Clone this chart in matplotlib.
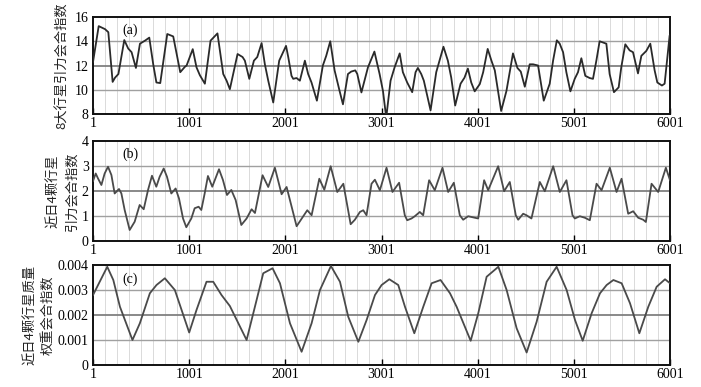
import numpy as np
import matplotlib
matplotlib.use('Agg')
import matplotlib.pyplot as plt

plt.rcParams['font.family'] = ['Liberation Serif', 'Noto Sans CJK SC']

# x positions of the ticks
xticks = [1, 1001, 2001, 3001, 4001, 5001, 6001]

# (a) 8 planets index
ta = [1, 60, 126, 160, 205, 230, 265, 326, 367, 402,
      447, 489, 541, 586, 627, 660, 700, 773, 835, 908,
      957, 974, 1038, 1077, 1112, 1164, 1223, 1295, 1355, 1390,
      1424, 1504, 1556, 1580, 1626, 1674, 1709, 1754, 1788, 1823,
      1875, 1937, 2008, 2031, 2065, 2083, 2117, 2152, 2204, 2238,
      2273, 2329, 2391, 2426, 2468, 2513, 2565, 2600, 2652, 2686,
      2728, 2749, 2792, 2860, 2927, 2981, 3016, 3050, 3095, 3137,
      3190, 3223, 3268, 3320, 3355, 3379, 3414, 3441, 3511, 3570,
      3645, 3691, 3726, 3767, 3823, 3864, 3899, 3934, 3970, 4023,
      4058, 4105, 4144, 4179, 4245, 4300, 4368, 4414, 4449, 4491,
      4542, 4577, 4629, 4688, 4750, 4785, 4824, 4854, 4889, 4923,
      4965, 5010, 5044, 5079, 5120, 5165, 5200, 5235, 5269, 5339,
      5373, 5418, 5467, 5494, 5536, 5581, 5616, 5668, 5703, 5754,
      5796, 5841, 5869, 5917, 5945, 5997, 6001]
va = [12.3, 15.25, 15.0, 14.75, 10.65, 11.0, 11.3, 14.1, 13.4, 13.1,
      11.8, 13.8, 14.05, 14.3, 12.1, 10.6, 10.55, 14.6, 14.4, 11.45,
      11.9, 12.0, 13.35, 11.85, 11.2, 10.5, 14.05, 14.65, 11.3, 10.75,
      10.05, 12.95, 12.7, 12.4, 10.9, 12.4, 12.7, 13.85, 12.1, 10.75,
      8.95, 12.4, 13.62, 12.7, 11.15, 10.9, 10.97, 10.75, 12.4, 11.3,
      10.6, 9.1, 12.0, 12.8, 14.0, 11.6, 9.9, 8.8, 11.3, 11.5,
      11.6, 11.3, 9.78, 11.85, 13.15, 11.3, 9.9, 7.7, 10.75, 11.85,
      13.0, 11.45, 10.6, 9.8, 11.45, 11.8, 11.3, 10.75, 8.3, 11.45,
      13.55, 12.4, 11.0, 8.7, 10.5, 11.0, 11.75, 10.6, 9.87, 10.47,
      11.45, 13.37, 12.4, 11.6, 8.25, 9.9, 13.0, 11.8, 11.5, 10.25,
      12.1, 12.1, 12.0, 9.1, 10.5, 12.4, 14.08, 13.8, 13.1, 11.45,
      9.87, 10.9, 11.45, 12.6, 11.15, 10.97, 10.9, 12.4, 14.0, 13.8,
      11.3, 9.8, 10.2, 11.85, 13.75, 13.25, 13.1, 11.35, 12.8, 13.2,
      13.8, 11.6, 10.6, 10.35, 10.5, 14.47, 14.5]

# (b) 4 inner planets index
tb = [1, 29, 53, 88, 122, 157, 192, 226, 271, 296,
      330, 382, 434, 486, 528, 573, 614, 659, 694, 736,
      770, 815, 860, 895, 937, 971, 1023, 1058, 1099, 1127,
      1162, 1196, 1241, 1311, 1352, 1394, 1439, 1484, 1543, 1598,
      1650, 1685,
      1764, 1823, 1892, 1962, 2014, 2118, 2229, 2274, 2354, 2406,
      2472, 2541, 2604, 2680, 2724, 2776, 2811, 2845, 2897, 2932,
      2984, 3053, 3115, 3184, 3243, 3268, 3313, 3347, 3399, 3434,
      3496, 3555, 3635, 3694, 3753, 3815, 3850, 3902, 3971, 4006,
      4068, 4110, 4214, 4276, 4335, 4397, 4422, 4474, 4508, 4560,
      4647, 4699, 4786, 4855, 4924, 4987, 5011, 5063, 5115, 5167,
      5237, 5289, 5375, 5445, 5497, 5566, 5618, 5670, 5722, 5750,
      5809, 5878, 5958, 6001]
vb = [2.4, 2.7, 2.5, 2.24, 2.7, 2.97, 2.64, 1.9, 2.08, 1.9,
      1.24, 0.44, 0.77, 1.44, 1.27, 2.04, 2.61, 2.17, 2.57, 2.9,
      2.57, 1.9, 2.1, 1.7, 0.9, 0.55, 0.9, 1.31, 1.37, 1.24,
      1.9, 2.6, 2.17, 2.87, 2.44, 1.84, 2.04, 1.64, 0.64, 0.9,
      1.27, 1.12,
      2.63, 2.16, 2.93, 1.87, 2.16, 0.59, 1.23, 1.03, 2.49, 2.05,
      2.99, 1.96, 2.29, 0.67, 0.85, 1.16, 1.23, 1.03, 2.29, 2.45,
      2.03, 2.93, 1.96, 2.33, 1.03, 0.83, 0.9, 0.99, 1.16, 1.03,
      2.43, 2.03, 2.93, 1.96, 2.33, 1.03, 0.85, 0.99, 0.93, 0.9,
      2.43, 2.03, 2.99, 1.99, 2.36, 1.03, 0.85, 1.09, 1.03, 0.9,
      2.36, 1.99, 2.99, 1.96, 2.43, 1.03, 0.9, 0.99, 0.93, 0.83,
      2.29, 2.03, 2.93, 1.96, 2.49, 1.09, 1.19, 0.93, 0.85, 0.76,
      2.29, 1.96, 2.93, 2.43]

# (c) mass weighted index, in units of 0.001
tc = [1, 149, 212, 281, 411, 488, 592, 661, 748, 852,
      1001, 1077, 1181, 1251, 1337, 1424, 1598, 1702, 1771, 1868,
      1945, 2049, 2170, 2274, 2361, 2475, 2569, 2655, 2760, 2846,
      2933, 3002, 3082, 3175, 3245, 3342, 3435, 3522, 3615, 3713,
      3782, 3928, 4007, 4094, 4216, 4302, 4406, 4510, 4614, 4718,
      4822, 4926, 5013, 5093, 5186, 5273, 5342, 5412, 5498, 5585,
      5682, 5775, 5862, 5949, 6001]
vc = [2.8, 3.93, 3.4, 2.33, 1.0, 1.67, 2.87, 3.2, 3.47, 3.0,
      1.3, 2.2, 3.33, 3.33, 2.8, 2.36, 1.0, 2.6, 3.67, 3.87,
      3.27, 1.67, 0.53, 1.67, 3.0, 3.96, 3.33, 1.93, 0.93, 1.8,
      2.8, 3.2, 3.43, 3.2, 2.33, 1.27, 2.33, 3.27, 3.4, 2.87,
      2.33, 0.97, 2.07, 3.53, 3.93, 3.0, 1.47, 0.5, 1.73, 3.33,
      3.93, 3.0, 1.8, 0.97, 2.07, 2.87, 3.2, 3.4, 3.27, 2.47,
      1.27, 2.33, 3.13, 3.43, 3.27]
vc = np.array(vc) * 1e-3

# y labels, one entry per line of text
ylabel_a = ['8大行星引力会合指数']
ylabel_b = ['近日4颗行星', '引力会合指数']
ylabel_c = ['近日4颗行星质量', '权重会合指数']

yticks_a = [8, 10, 12, 14, 16]
yticks_b = [0, 1, 2, 3, 4]
yticks_c = [0, 0.001, 0.002, 0.003, 0.004]
ytlabels_c = ['0', '0.001', '0.002', '0.003', '0.004']

fig = plt.figure(figsize=(7.01, 3.87), dpi=100)
W = 0.8231
ax_a = fig.add_axes([0.1327, 0.7054, W, 0.2506])
ax_b = fig.add_axes([0.1327, 0.3773, W, 0.2584])
ax_c = fig.add_axes([0.1327, 0.0568, W, 0.2584])

panels = [
    (ax_a, ta, va, '#2a2a2a', yticks_a, [str(v) for v in yticks_a], '(a)'),
    (ax_b, tb, vb, '#4a4a4a', yticks_b, [str(v) for v in yticks_b], '(b)'),
    (ax_c, tc, vc, '#4a4a4a', yticks_c, ytlabels_c, '(c)'),
]

for ax, t, v, col, yt, ytl, tag in panels:
    # thin vertical grid
    for gx in np.arange(1, 6002, 125):
        ax.axvline(gx, color='#d4d4d4', lw=0.6, zorder=0)
    # horizontal grid, the middle one darker
    for i, gy in enumerate(yt[1:-1]):
        if i == 1:
            ax.axhline(gy, color='#808080', lw=1.3, zorder=1)
        else:
            ax.axhline(gy, color='#a0a0a0', lw=1.0, zorder=1)
    ax.plot(t, v, color=col, lw=1.3, zorder=3)
    ax.set_xlim(1, 6001)
    ax.set_ylim(yt[0], yt[-1])
    ax.set_xticks(xticks)
    ax.set_xticklabels([str(x) for x in xticks])
    ax.set_yticks(yt)
    ax.set_yticklabels(ytl)
    ax.tick_params(axis='x', direction='in', length=4, width=1, pad=2, labelsize=10)
    ax.tick_params(axis='y', length=0, pad=3, labelsize=10)
    for s in ax.spines.values():
        s.set_linewidth(1.4)
        s.set_color('#111111')
    ax.text(0.064, 0.93, tag, transform=ax.transAxes, fontsize=10,
            ha='center', va='top')

# place label lines by hand (pixel x of each line centre)
cjk = ['Noto Sans CJK SC']
label_sets = [(ax_a, ylabel_a, [62]), (ax_b, ylabel_b, [53, 72]),
              (ax_c, ylabel_c, [30, 49])]
for ax, lines, xs in label_sets:
    pos = ax.get_position()
    yc = (pos.y0 + pos.y1) / 2
    for line, px in zip(lines, xs):
        fig.text(px / 701, yc, line, rotation=90, fontsize=9.5, family=cjk,
                 ha='center', va='center', color='#222222')

fig.savefig('out.png', dpi=100)
